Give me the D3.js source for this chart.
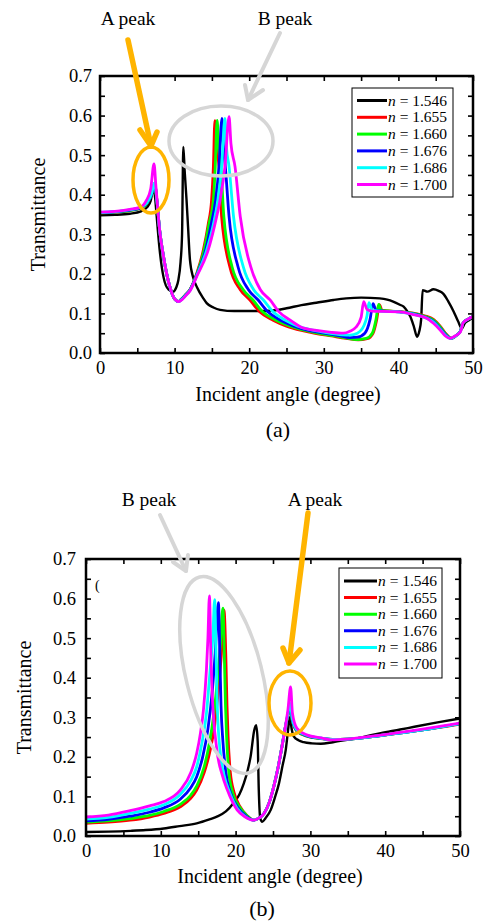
<!DOCTYPE html>
<html>
<head>
  <meta charset="utf-8">
  <title>Transmittance versus incident angle</title>
  <script src="https://d3js.org/d3.v7.min.js"></script>
  <style>
    body { margin: 0; background: #fff; }
  </style>
</head>
<body>
<svg id="chart" width="490" height="924"></svg>
<script>
  /* Series values: [incident angle (deg), transmittance] */
  var indexLabels = ["1.546", "1.655", "1.660", "1.676", "1.686", "1.700"];
  var xTicks = [0, 5, 10, 15, 20, 25, 30, 35, 40, 45, 50];
  var yTicks = [0, 0.05, 0.1, 0.15, 0.2, 0.25, 0.3, 0.35, 0.4, 0.45, 0.5, 0.55, 0.6, 0.65, 0.7];

  // panel (a)
  var a1546 = [[0,0.348],[2,0.349],[4,0.352],[5.5,0.358],[6.3,0.368],[6.8,0.385],[7.15,0.416],[7.4,0.39],[7.6,0.345],
    [8.0,0.26],[8.5,0.193],[9.2,0.16],[9.8,0.155],[10.2,0.165],[10.5,0.184],[10.8,0.23],[11.0,0.30],[11.17,0.521],
    [11.35,0.46],[11.6,0.387],[11.8,0.32],[12.06,0.235],[12.5,0.19],[13.0,0.166],[13.85,0.138],[14.3,0.126],
    [15.2,0.115],[16.1,0.109],[18,0.106],[20,0.106],[22,0.106],[23.5,0.108],[25,0.113],[27,0.121],[29,0.127],
    [31.3,0.134],[33,0.138],[35,0.140],[37.5,0.138],[38.5,0.135],[39.3,0.13],[40.2,0.122],[40.7,0.117],[41.2,0.105],
    [41.6,0.092],[42.1,0.065],[42.5,0.041],[42.8,0.055],[43.05,0.085],[43.25,0.159],[43.9,0.155],[44.7,0.161],
    [45.4,0.157],[46.0,0.150],[46.7,0.13],[47.4,0.105],[48.0,0.08],[48.5,0.062],[48.9,0.075],[49.4,0.082],[50,0.090]];
  var a1655 = [[0,0.354],[2,0.356],[4,0.36],[5.5,0.367],[6.3,0.378],[6.9,0.40],[7.35,0.428],[7.6,0.39],[8.0,0.31],
    [8.5,0.245],[8.94,0.20],[9.4,0.165],[9.83,0.142],[10.2,0.133],[10.5,0.13],[11.0,0.138],[11.5,0.148],[12.06,0.16],
    [13.0,0.203],[13.85,0.26],[14.5,0.325],[14.96,0.387],[15.2,0.471],[15.4,0.587],[15.6,0.52],[15.96,0.471],
    [16.3,0.345],[17.4,0.218],[18.8,0.16],[20.1,0.134],[21.4,0.104],[23.2,0.083],[25,0.068],[27,0.057],[29,0.049],
    [31,0.043],[33,0.037],[34.6,0.033],[35.8,0.036],[36.6,0.05],[37.1,0.085],[37.45,0.122],[37.8,0.108],[39,0.106],
    [40.5,0.104],[42,0.101],[43.5,0.094],[44.7,0.085],[45.6,0.068],[46.4,0.048],[47.1,0.037],[47.8,0.045],
    [48.3,0.055],[48.7,0.077],[49.3,0.085],[50,0.092]];
  var a1660 = [[0,0.354],[2,0.356],[4,0.36],[5.5,0.367],[6.3,0.378],[6.9,0.40],[7.35,0.428],[7.6,0.39],[8.0,0.31],
    [8.5,0.245],[8.94,0.20],[9.4,0.165],[9.83,0.142],[10.2,0.133],[10.5,0.13],[11.0,0.138],[11.5,0.148],[12.06,0.16],
    [13.0,0.201],[13.95,0.26],[14.6,0.325],[15.2,0.387],[15.45,0.471],[15.7,0.588],[15.9,0.52],[16.2,0.471],
    [16.6,0.345],[17.7,0.218],[19.2,0.16],[20.5,0.134],[21.8,0.104],[23.6,0.083],[25.5,0.068],[27.5,0.057],
    [29.5,0.049],[31.5,0.043],[33,0.038],[34.4,0.034],[35.7,0.037],[36.5,0.05],[37.0,0.085],[37.35,0.123],
    [37.7,0.108],[39,0.106],[40.5,0.104],[42,0.1],[43.5,0.093],[44.7,0.083],[45.6,0.066],[46.4,0.047],[47.1,0.037],
    [47.8,0.045],[48.3,0.055],[48.7,0.077],[49.3,0.085],[50,0.092]];
  var a1676 = [[0,0.355],[2,0.357],[4,0.361],[5.5,0.368],[6.3,0.379],[6.9,0.40],[7.35,0.43],[7.6,0.39],[8.0,0.31],
    [8.5,0.245],[8.94,0.20],[9.4,0.165],[9.83,0.142],[10.2,0.133],[10.5,0.13],[11.0,0.137],[11.5,0.147],[12.06,0.159],
    [13.0,0.199],[14.15,0.26],[14.9,0.325],[15.5,0.387],[15.95,0.471],[16.35,0.593],[16.55,0.52],[16.8,0.471],
    [17.3,0.345],[18.5,0.218],[19.9,0.16],[21.2,0.134],[22.5,0.104],[24.2,0.083],[26,0.068],[28,0.057],[30,0.05],
    [32,0.044],[33.5,0.039],[34.5,0.04],[35.5,0.05],[36.2,0.085],[36.6,0.125],[37,0.108],[38,0.106],[40,0.104],
    [42,0.099],[43.5,0.091],[44.7,0.08],[45.6,0.062],[46.4,0.045],[47.0,0.037],[47.8,0.045],[48.3,0.055],
    [48.7,0.077],[49.3,0.085],[50,0.092]];
  var a1686 = [[0,0.355],[2,0.357],[4,0.362],[5.5,0.369],[6.3,0.38],[6.9,0.402],[7.3,0.43],[7.6,0.39],[8.0,0.31],
    [8.5,0.245],[8.94,0.20],[9.4,0.165],[9.83,0.142],[10.2,0.133],[10.5,0.13],[11.0,0.136],[11.5,0.146],[12.06,0.158],
    [13.0,0.197],[14.3,0.26],[15.2,0.325],[15.8,0.387],[16.3,0.471],[16.75,0.593],[16.95,0.52],[17.3,0.471],
    [17.9,0.345],[19.2,0.218],[20.6,0.16],[21.9,0.134],[23.2,0.104],[24.8,0.083],[26.5,0.068],[28.5,0.058],
    [30.5,0.051],[32.5,0.046],[33.5,0.045],[34.5,0.05],[35.4,0.07],[35.8,0.095],[36.05,0.127],[36.5,0.108],
    [37.5,0.106],[40,0.104],[42,0.098],[43.5,0.09],[44.7,0.078],[45.6,0.06],[46.4,0.043],[47.0,0.037],[47.8,0.045],
    [48.3,0.055],[48.7,0.077],[49.3,0.085],[50,0.092]];
  var a1700 = [[0,0.356],[2,0.358],[4,0.363],[5.36,0.368],[6.2,0.385],[6.8,0.415],[7.24,0.478],[7.5,0.42],[8.0,0.31],
    [8.5,0.245],[8.94,0.20],[9.4,0.165],[9.83,0.142],[10.2,0.133],[10.5,0.13],[11.0,0.135],[11.5,0.145],[12.06,0.157],
    [13.0,0.195],[14.5,0.26],[15.4,0.325],[16.1,0.387],[16.75,0.471],[17.3,0.597],[17.55,0.53],[18.1,0.471],
    [18.8,0.345],[20.2,0.218],[21.5,0.16],[22.8,0.134],[24.0,0.104],[25.5,0.083],[27,0.065],[29,0.057],[31,0.052],
    [32.6,0.05],[33.5,0.055],[34.3,0.065],[35.0,0.09],[35.35,0.13],[35.8,0.11],[36.5,0.106],[38,0.105],[40.2,0.104],
    [42,0.097],[43.8,0.088],[44.7,0.075],[45.6,0.058],[46.3,0.043],[46.9,0.037],[47.6,0.043],[48.3,0.053],
    [48.7,0.077],[49.3,0.085],[50,0.092]];

  // panel (b)
  var b1546 = [[0,0.010],[3,0.011],[6,0.013],[8,0.015],[10.4,0.019],[12.5,0.025],[14.8,0.032],[16.5,0.042],
    [17.5,0.049],[18.7,0.062],[19.7,0.083],[20.5,0.105],[21.1,0.133],[21.6,0.165],[22.0,0.2],[22.5,0.268],
    [22.75,0.28],[22.95,0.24],[23.1,0.116],[23.3,0.045],[23.55,0.036],[24.0,0.045],[24.7,0.066],[25.3,0.1],
    [25.8,0.133],[26.3,0.18],[26.7,0.217],[27.0,0.265],[27.25,0.30],[27.5,0.27],[27.8,0.251],[28.4,0.242],
    [29.1,0.237],[30.2,0.234],[31.4,0.233],[33,0.237],[34.9,0.243],[37,0.25],[39.4,0.26],[42,0.269],[43.9,0.276],
    [47,0.287],[50,0.297]];
  var b1655 = [[0,0.032],[3,0.035],[5.9,0.040],[8.5,0.048],[10.4,0.057],[12.6,0.074],[14,0.095],[14.8,0.116],
    [15.8,0.16],[16.6,0.217],[17.2,0.28],[17.7,0.369],[18.1,0.46],[18.45,0.571],[18.7,0.45],[18.85,0.33],[19.0,0.25],
    [19.3,0.16],[19.8,0.11],[20.6,0.074],[21.5,0.052],[22.4,0.04],[23.1,0.045],[23.8,0.057],[24.5,0.085],
    [25.1,0.125],[25.7,0.175],[26.2,0.226],[26.6,0.27],[27.0,0.305],[27.3,0.327],[27.6,0.29],[28.2,0.265],
    [29.6,0.252],[31.4,0.246],[33,0.244],[35,0.245],[39.4,0.254],[45,0.268],[50,0.283]];
  var b1660 = [[0,0.035],[3,0.038],[5.9,0.044],[8.5,0.052],[10.4,0.062],[12.6,0.08],[14,0.103],[14.8,0.126],
    [15.8,0.175],[16.5,0.235],[17.1,0.31],[17.6,0.40],[17.95,0.48],[18.3,0.576],[18.5,0.45],[18.65,0.33],[18.8,0.25],
    [19.1,0.16],[19.6,0.11],[20.5,0.074],[21.5,0.052],[22.4,0.04],[23.1,0.045],[23.8,0.057],[24.5,0.085],
    [25.1,0.125],[25.7,0.175],[26.2,0.226],[26.6,0.27],[27.0,0.305],[27.3,0.328],[27.6,0.29],[28.2,0.266],
    [29.6,0.252],[31.4,0.246],[33,0.244],[35,0.245],[39.4,0.254],[45,0.268],[50,0.284]];
  var b1676 = [[0,0.038],[3,0.042],[5.9,0.05],[8.5,0.06],[10.4,0.071],[12.6,0.093],[14,0.122],[14.8,0.15],
    [15.6,0.2],[16.3,0.27],[16.9,0.37],[17.3,0.47],[17.7,0.59],[17.9,0.45],[18.05,0.33],[18.3,0.24],[18.7,0.16],
    [19.3,0.11],[20.3,0.072],[21.4,0.05],[22.4,0.04],[23.1,0.045],[23.8,0.057],[24.5,0.085],[25.1,0.125],
    [25.7,0.175],[26.2,0.226],[26.6,0.27],[27.0,0.308],[27.3,0.33],[27.6,0.292],[28.2,0.267],[29.6,0.253],
    [31.4,0.247],[33,0.244],[35,0.245],[39.4,0.254],[45,0.268],[50,0.284]];
  var b1686 = [[0,0.043],[3,0.047],[5.9,0.057],[8.5,0.068],[10.4,0.079],[12.6,0.105],[14,0.14],[14.8,0.175],
    [15.5,0.235],[16.1,0.31],[16.6,0.42],[16.95,0.5],[17.2,0.597],[17.4,0.45],[17.55,0.33],[17.9,0.22],[18.5,0.15],
    [19.2,0.11],[20.2,0.07],[21.3,0.049],[22.4,0.04],[23.1,0.045],[23.8,0.057],[24.5,0.085],[25.1,0.125],
    [25.7,0.175],[26.2,0.226],[26.6,0.27],[27.0,0.31],[27.3,0.335],[27.6,0.295],[28.2,0.268],[29.6,0.254],
    [31.4,0.247],[33,0.244],[35,0.245],[39.4,0.254],[45,0.268],[50,0.284]];
  var b1700 = [[0,0.048],[3,0.053],[5.9,0.064],[8.5,0.076],[10.4,0.087],[12.6,0.116],[14,0.16],[14.8,0.209],
    [15.3,0.26],[15.7,0.318],[16.1,0.42],[16.3,0.5],[16.5,0.607],[16.7,0.45],[16.85,0.369],[17.5,0.217],
    [18.2,0.155],[18.9,0.116],[20.2,0.066],[21.3,0.048],[22.4,0.04],[23.1,0.045],[23.8,0.057],[24.5,0.085],
    [25.1,0.125],[25.7,0.175],[26.2,0.226],[26.6,0.27],[27.0,0.32],[27.35,0.377],[27.6,0.31],[28.2,0.272],
    [29.6,0.255],[31.4,0.248],[32.7,0.243],[35,0.245],[39.4,0.255],[45,0.27],[50,0.285]];

  var seriesColors = ["#000000", "#ff0000", "#00ff00", "#0000ff", "#00ffff", "#ff00ff"];
  var ORANGE = "#ffb400", GREY = "#d6d6d6";
  var SERIF = "Liberation Serif, Times New Roman, serif";

  var svg = d3.select("#chart").attr("font-family", SERIF);

  /* One panel: frame, inward ticks on all sides, curves, legend, labels */
  function draw_panel(p, series) {
    var x = d3.scaleLinear().domain([0, 50]).range([p.left, p.right]);
    var y = d3.scaleLinear().domain([0, 0.7]).range([p.bottom, p.top]);
    var g = svg.append("g");

    var major = function(d) { return Math.round(d * 100) % 10 === 0; };

    var ax = [
      { a: d3.axisBottom(x).tickValues(xTicks).tickFormat(function(d) { return d % 10 === 0 ? d : ""; })
          .tickPadding(8), t: "translate(0," + p.bottom + ")" },
      { a: d3.axisTop(x).tickValues(xTicks).tickFormat(""), t: "translate(0," + p.top + ")" },
      { a: d3.axisLeft(y).tickValues(yTicks).tickFormat(function(d) { return major(d) ? d3.format(".1f")(d) : ""; })
          .tickPadding(p.yPad), t: "translate(" + p.left + ",0)" },
      { a: d3.axisRight(y).tickValues(yTicks).tickFormat(""), t: "translate(" + p.right + ",0)" }
    ];
    ax.forEach(function(o) {
      var axg = g.append("g").attr("transform", o.t)
        .call(o.a.tickSize(-5).tickSizeOuter(0));
      axg.attr("font-family", SERIF).attr("font-size", 18.5);
      axg.select(".domain").remove();
      axg.selectAll("line").attr("stroke-width", 1.6);
    });

    // curves, black first so the coloured ones sit on top
    var line = d3.line()
      .x(function(d) { return x(d[0]); })
      .y(function(d) { return y(d[1]); })
      .curve(d3.curveMonotoneX);

    g.append("g").selectAll("path")
      .data(series)
      .enter().append("path")
      .attr("d", line)
      .attr("fill", "none")
      .attr("stroke", function(d, i) { return seriesColors[i]; })
      .attr("stroke-width", function(d, i) { return i === 0 ? 2.4 : 2.8; })
      .attr("stroke-linejoin", "round");

    g.append("rect")
      .attr("x", p.left).attr("y", p.top)
      .attr("width", p.right - p.left).attr("height", p.bottom - p.top)
      .attr("fill", "none").attr("stroke", "#000").attr("stroke-width", 2.5);

    /* legend */
    var lg = g.append("g");
    lg.append("rect")
      .attr("x", p.lx).attr("y", p.ly).attr("width", p.lw).attr("height", p.lh)
      .attr("fill", "#fff").attr("stroke", "#000").attr("stroke-width", 1);
    var rows = lg.selectAll("g.row")
      .data(indexLabels)
      .enter().append("g")
      .attr("class", "row")
      .attr("transform", function(d, i) { return "translate(0," + (p.ly + p.l0 + i * p.ldy) + ")"; });
    rows.append("line")
      .attr("x1", p.lx + 5).attr("x2", p.lx + 5 + p.llen)
      .attr("stroke", function(d, i) { return seriesColors[i]; })
      .attr("stroke-width", 3);
    var tx = rows.append("text")
      .attr("x", p.lx + 6 + p.llen).attr("y", 5)
      .attr("font-size", 15.5);
    tx.append("tspan").attr("font-style", "italic").text("n");
    tx.append("tspan").text(function(d) { return " = " + d; });

    /* axis titles and panel tag */
    svg.append("text")
      .attr("transform", "translate(" + p.ylabX + "," + ((p.top + p.bottom) / 2) + ") rotate(-90)")
      .attr("text-anchor", "middle").attr("font-size", 20)
      .text("Transmittance");
    svg.append("text")
      .attr("x", p.xlabX).attr("y", p.xlabY)
      .attr("text-anchor", "middle").attr("font-size", 20)
      .text("Incident angle (degree)");
    svg.append("text")
      .attr("x", p.tagX).attr("y", p.tagY)
      .attr("text-anchor", "middle").attr("font-size", 22)
      .text(p.tag);
  }

  /* hand-drawn style call-outs: ellipse, arrow with open head, label */
  function callout(c) {
    var g = svg.append("g").attr("fill", "none").attr("stroke", c.color)
      .attr("stroke-linecap", "round").attr("stroke-linejoin", "round");
    g.append("ellipse")
      .attr("cx", c.cx).attr("cy", c.cy).attr("rx", c.rx).attr("ry", c.ry)
      .attr("transform", "rotate(" + (c.rot || 0) + "," + c.cx + "," + c.cy + ")")
      .attr("stroke-width", 3.5);
    g.append("line")
      .attr("x1", c.from[0]).attr("y1", c.from[1]).attr("x2", c.to[0]).attr("y2", c.to[1])
      .attr("stroke-width", c.w);
    g.append("polyline")
      .attr("points", [c.arm1, c.to, c.arm2].map(function(q) { return q.join(","); }).join(" "))
      .attr("stroke-width", c.w);
    svg.append("text")
      .attr("x", c.tx).attr("y", c.ty)
      .attr("text-anchor", "middle").attr("font-size", 19.5)
      .text(c.text);
  }

  draw_panel({ left: 100, right: 473, top: 76, bottom: 353, yPad: 8,
               lx: 352, ly: 88, lw: 101, lh: 109, l0: 12.5, ldy: 16.8, llen: 30,
               ylabX: 45, xlabX: 288, xlabY: 401, tag: "(a)", tagX: 278, tagY: 437 },
             [a1546, a1655, a1660, a1676, a1686, a1700]);

  draw_panel({ left: 86, right: 460, top: 559, bottom: 836, yPad: 10,
               lx: 339, ly: 568, lw: 103, lh: 110, l0: 13, ldy: 16.6, llen: 33,
               ylabX: 31, xlabX: 270, xlabY: 883, tag: "(b)", tagX: 262, tagY: 916 },
             [b1546, b1655, b1660, b1676, b1686, b1700]);

  // stray mark near the top-left corner of panel (b)
  svg.append("text").attr("x", 95).attr("y", 590).attr("font-size", 14).text("(");

  callout({ color: ORANGE, cx: 151, cy: 180, rx: 18, ry: 33, w: 5.5,
            from: [128, 40], to: [151, 146], arm1: [140, 130], arm2: [157, 132],
            text: "A peak", tx: 128, ty: 25 });
  callout({ color: GREY, cx: 221, cy: 141, rx: 52, ry: 35, w: 4,
            from: [280, 33], to: [248, 100], arm1: [245, 85], arm2: [263, 90],
            text: "B peak", tx: 285, ty: 25 });
  callout({ color: GREY, cx: 224, cy: 675, rx: 38, ry: 101, rot: -14, w: 4,
            from: [160, 515], to: [186, 571], arm1: [173, 562], arm2: [188, 555],
            text: "B peak", tx: 149, ty: 506 });
  callout({ color: ORANGE, cx: 290, cy: 703, rx: 21, ry: 32, w: 5.5,
            from: [308, 513], to: [289, 663], arm1: [283, 648], arm2: [300, 650],
            text: "A peak", tx: 315, ty: 506 });
</script>
</body>
</html>
